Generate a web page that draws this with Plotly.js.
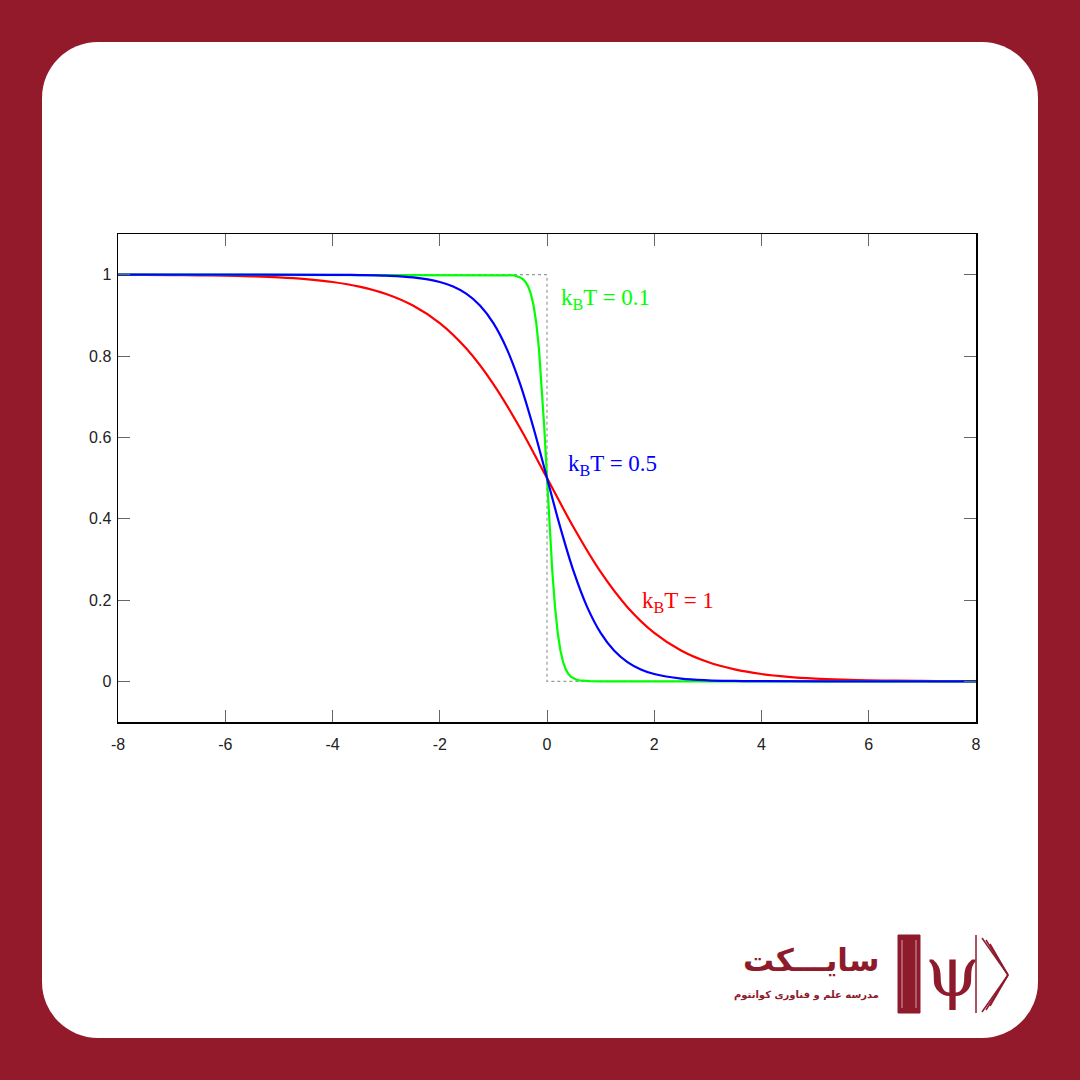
<!DOCTYPE html>
<html>
<head>
<meta charset="utf-8">
<script src="https://cdn.plot.ly/plotly-3.0.1.min.js"></script>
<style>
html,body{margin:0;padding:0;width:1080px;height:1080px;background:#921a2b;overflow:hidden;}
#card{position:absolute;left:42px;top:42px;width:996px;height:996px;background:#fff;border-radius:56px;}
#chart{position:absolute;left:0;top:0;width:1080px;height:1080px;}
</style>
</head>
<body>
<div id="card"></div>
<div id="chart"></div>
<script>
// ---- data ----
const stepX = [-8, 0, 0, 8];
const stepY = [1, 1, 0, 0];

const redX = [-8,-7.5,-7,-6.5,-6,-5.5,-5,-4.5,-4,-3.5,-3,-2.5,-2,-1.5,-1,-0.5,0,0.5,1,1.5,2,2.5,3,3.5,4,4.5,5,5.5,6,6.5,7,7.5,8];
const redY = [0.99966,0.99945,0.99909,0.9985,0.99753,0.99593,0.99331,0.98901,0.98201,0.97069,0.95257,0.92414,0.8808,0.81757,0.73106,0.62246,0.5,0.37754,0.26894,0.18243,0.1192,0.07586,0.04743,0.02931,0.01799,0.01099,0.00669,0.00407,0.00247,0.0015,0.00091,0.00055,0.00034];

const blueX = [-8,-6,-4,-3.5,-3,-2.5,-2,-1.75,-1.5,-1.25,-1,-0.75,-0.5,-0.25,0,0.25,0.5,0.75,1,1.25,1.5,1.75,2,2.5,3,3.5,4,6,8];
const blueY = [1,0.99999,0.99966,0.99909,0.99753,0.99331,0.98201,0.97069,0.95257,0.92414,0.8808,0.81757,0.73106,0.62246,0.5,0.37754,0.26894,0.18243,0.1192,0.07586,0.04743,0.02931,0.01799,0.00669,0.00247,0.00091,0.00034,0.00001,0];

const greenX = [-8,-2,-1,-0.8,-0.7,-0.65,-0.6,-0.55,-0.5,-0.45,-0.4,-0.35,-0.3,-0.25,-0.2,-0.15,-0.1,-0.05,0,0.05,0.1,0.15,0.2,0.25,0.3,0.35,0.4,0.45,0.5,0.55,0.6,0.65,0.7,0.8,1,2,8];
const greenY = [1,1,0.99995,0.99966,0.99909,0.9985,0.99753,0.99593,0.99331,0.98901,0.98201,0.97069,0.95257,0.92414,0.8808,0.81757,0.73106,0.62246,0.5,0.37754,0.26894,0.18243,0.1192,0.07586,0.04743,0.02931,0.01799,0.01099,0.00669,0.00407,0.00247,0.0015,0.00091,0.00034,0.00005,0,0];

const xTickVals = [-8,-6,-4,-2,0,2,4,6,8];
const xTickText = ["-8","-6","-4","-2","0","2","4","6","8"];
const yTickVals = [0,0.2,0.4,0.6,0.8,1];
const yTickText = ["0","0.2","0.4","0.6","0.8","1"];

const curveLabels = ["k<sub>B</sub>T = 0.1","k<sub>B</sub>T = 0.5","k<sub>B</sub>T = 1"];
const labelX = [0.22, 0.36, 1.74];
const labelY = [0.941, 0.532, 0.194];
const labelColors = ["#00ff00","#0000ff","#ff0000"];

const logoTitle = "سایـــکت";
const logoSub = "مدرسه علم و فناوری کوانتوم";

// ---- layout helpers (pixel -> paper) ----
const L = 118, R = 976, T = 234, B = 722;
const px = v => (v - L) / (R - L);
const py = v => (B - v) / (B - T);
const logoColor = "#8e1b2c";

const traces = [
  {x: stepX, y: stepY, mode: "lines", line: {color: "#999", width: 1.2, dash: "dot"}, hoverinfo: "skip"},
  {x: redX, y: redY, mode: "lines", line: {color: "#ff0000", width: 2.2, shape: "spline"}},
  {x: greenX, y: greenY, mode: "lines", line: {color: "#00ff00", width: 2.2}},
  {x: blueX, y: blueY, mode: "lines", line: {color: "#0000ff", width: 2.2, shape: "spline"}}
];

const annotations = curveLabels.map((t, i) => ({
  x: labelX[i], y: labelY[i], xref: "x", yref: "y", text: t, showarrow: false,
  xanchor: "left", yanchor: "middle",
  font: {family: "Liberation Serif, serif", size: 23, color: labelColors[i]}
}));
annotations.push({
  x: px(881), y: py(960), xref: "paper", yref: "paper", text: "<b>" + logoTitle + "</b>",
  showarrow: false, xanchor: "right", yanchor: "middle",
  font: {family: "DejaVu Sans", size: 31, color: logoColor}
});
annotations.push({
  x: px(881), y: py(995), xref: "paper", yref: "paper", text: "<b>" + logoSub + "</b>",
  showarrow: false, xanchor: "right", yanchor: "middle",
  font: {family: "DejaVu Sans", size: 10, color: logoColor}
});
annotations.push({
  x: px(952), y: py(972), xref: "paper", yref: "paper", text: "ψ",
  showarrow: false, xanchor: "center", yanchor: "middle",
  font: {family: "DejaVu Serif", size: 70, color: logoColor}
});

const shapes = [
  {type: "rect", xref: "paper", yref: "paper", x0: px(898), x1: px(920), y0: py(1013), y1: py(935),
   fillcolor: logoColor, line: {color: logoColor, width: 1}},
  {type: "line", xref: "paper", yref: "paper", x0: px(902), x1: px(902), y0: py(1008), y1: py(940),
   line: {color: "#d9a0a8", width: 1}},
  {type: "line", xref: "paper", yref: "paper", x0: px(916), x1: px(916), y0: py(1008), y1: py(940),
   line: {color: "#d9a0a8", width: 1}}
];
// open book fan
const fanTop = [[982,938],[986,940],[990,944]];
const fanBot = [[982,1012],[986,1010],[990,1006]];
fanTop.concat(fanBot).forEach(p => shapes.push({
  type: "line", xref: "paper", yref: "paper", x0: px(p[0]), y0: py(p[1]), x1: px(1008), y1: py(975),
  line: {color: logoColor, width: 1.5}
}));
shapes.push({type: "line", xref: "paper", yref: "paper", x0: px(976), y0: py(935), x1: px(976), y1: py(1013),
  line: {color: logoColor, width: 1.5}});

const axisCommon = {
  showline: true, linecolor: "#000", linewidth: 1.5, mirror: "ticks",
  ticks: "inside", ticklen: 12, tickwidth: 1, tickcolor: "#666",
  showgrid: false, zeroline: false,
  tickfont: {family: "Liberation Sans, Arial, sans-serif", size: 16, color: "#222"}
};

const layout = {
  width: 1080, height: 1080,
  paper_bgcolor: "rgba(0,0,0,0)", plot_bgcolor: "#fff",
  margin: {l: L, r: 1080 - R, t: T, b: 1080 - B, pad: 0},
  showlegend: false,
  xaxis: Object.assign({}, axisCommon, {range: [-8, 8], tickvals: xTickVals, ticktext: xTickText, ticklabelstandoff: 7}),
  yaxis: Object.assign({}, axisCommon, {range: [-0.1, 1.1], tickvals: yTickVals, ticktext: yTickText, ticklabelstandoff: 2}),
  annotations: annotations,
  shapes: shapes
};

Plotly.newPlot("chart", traces, layout, {staticPlot: true, displayModeBar: false});
</script>
</body>
</html>
